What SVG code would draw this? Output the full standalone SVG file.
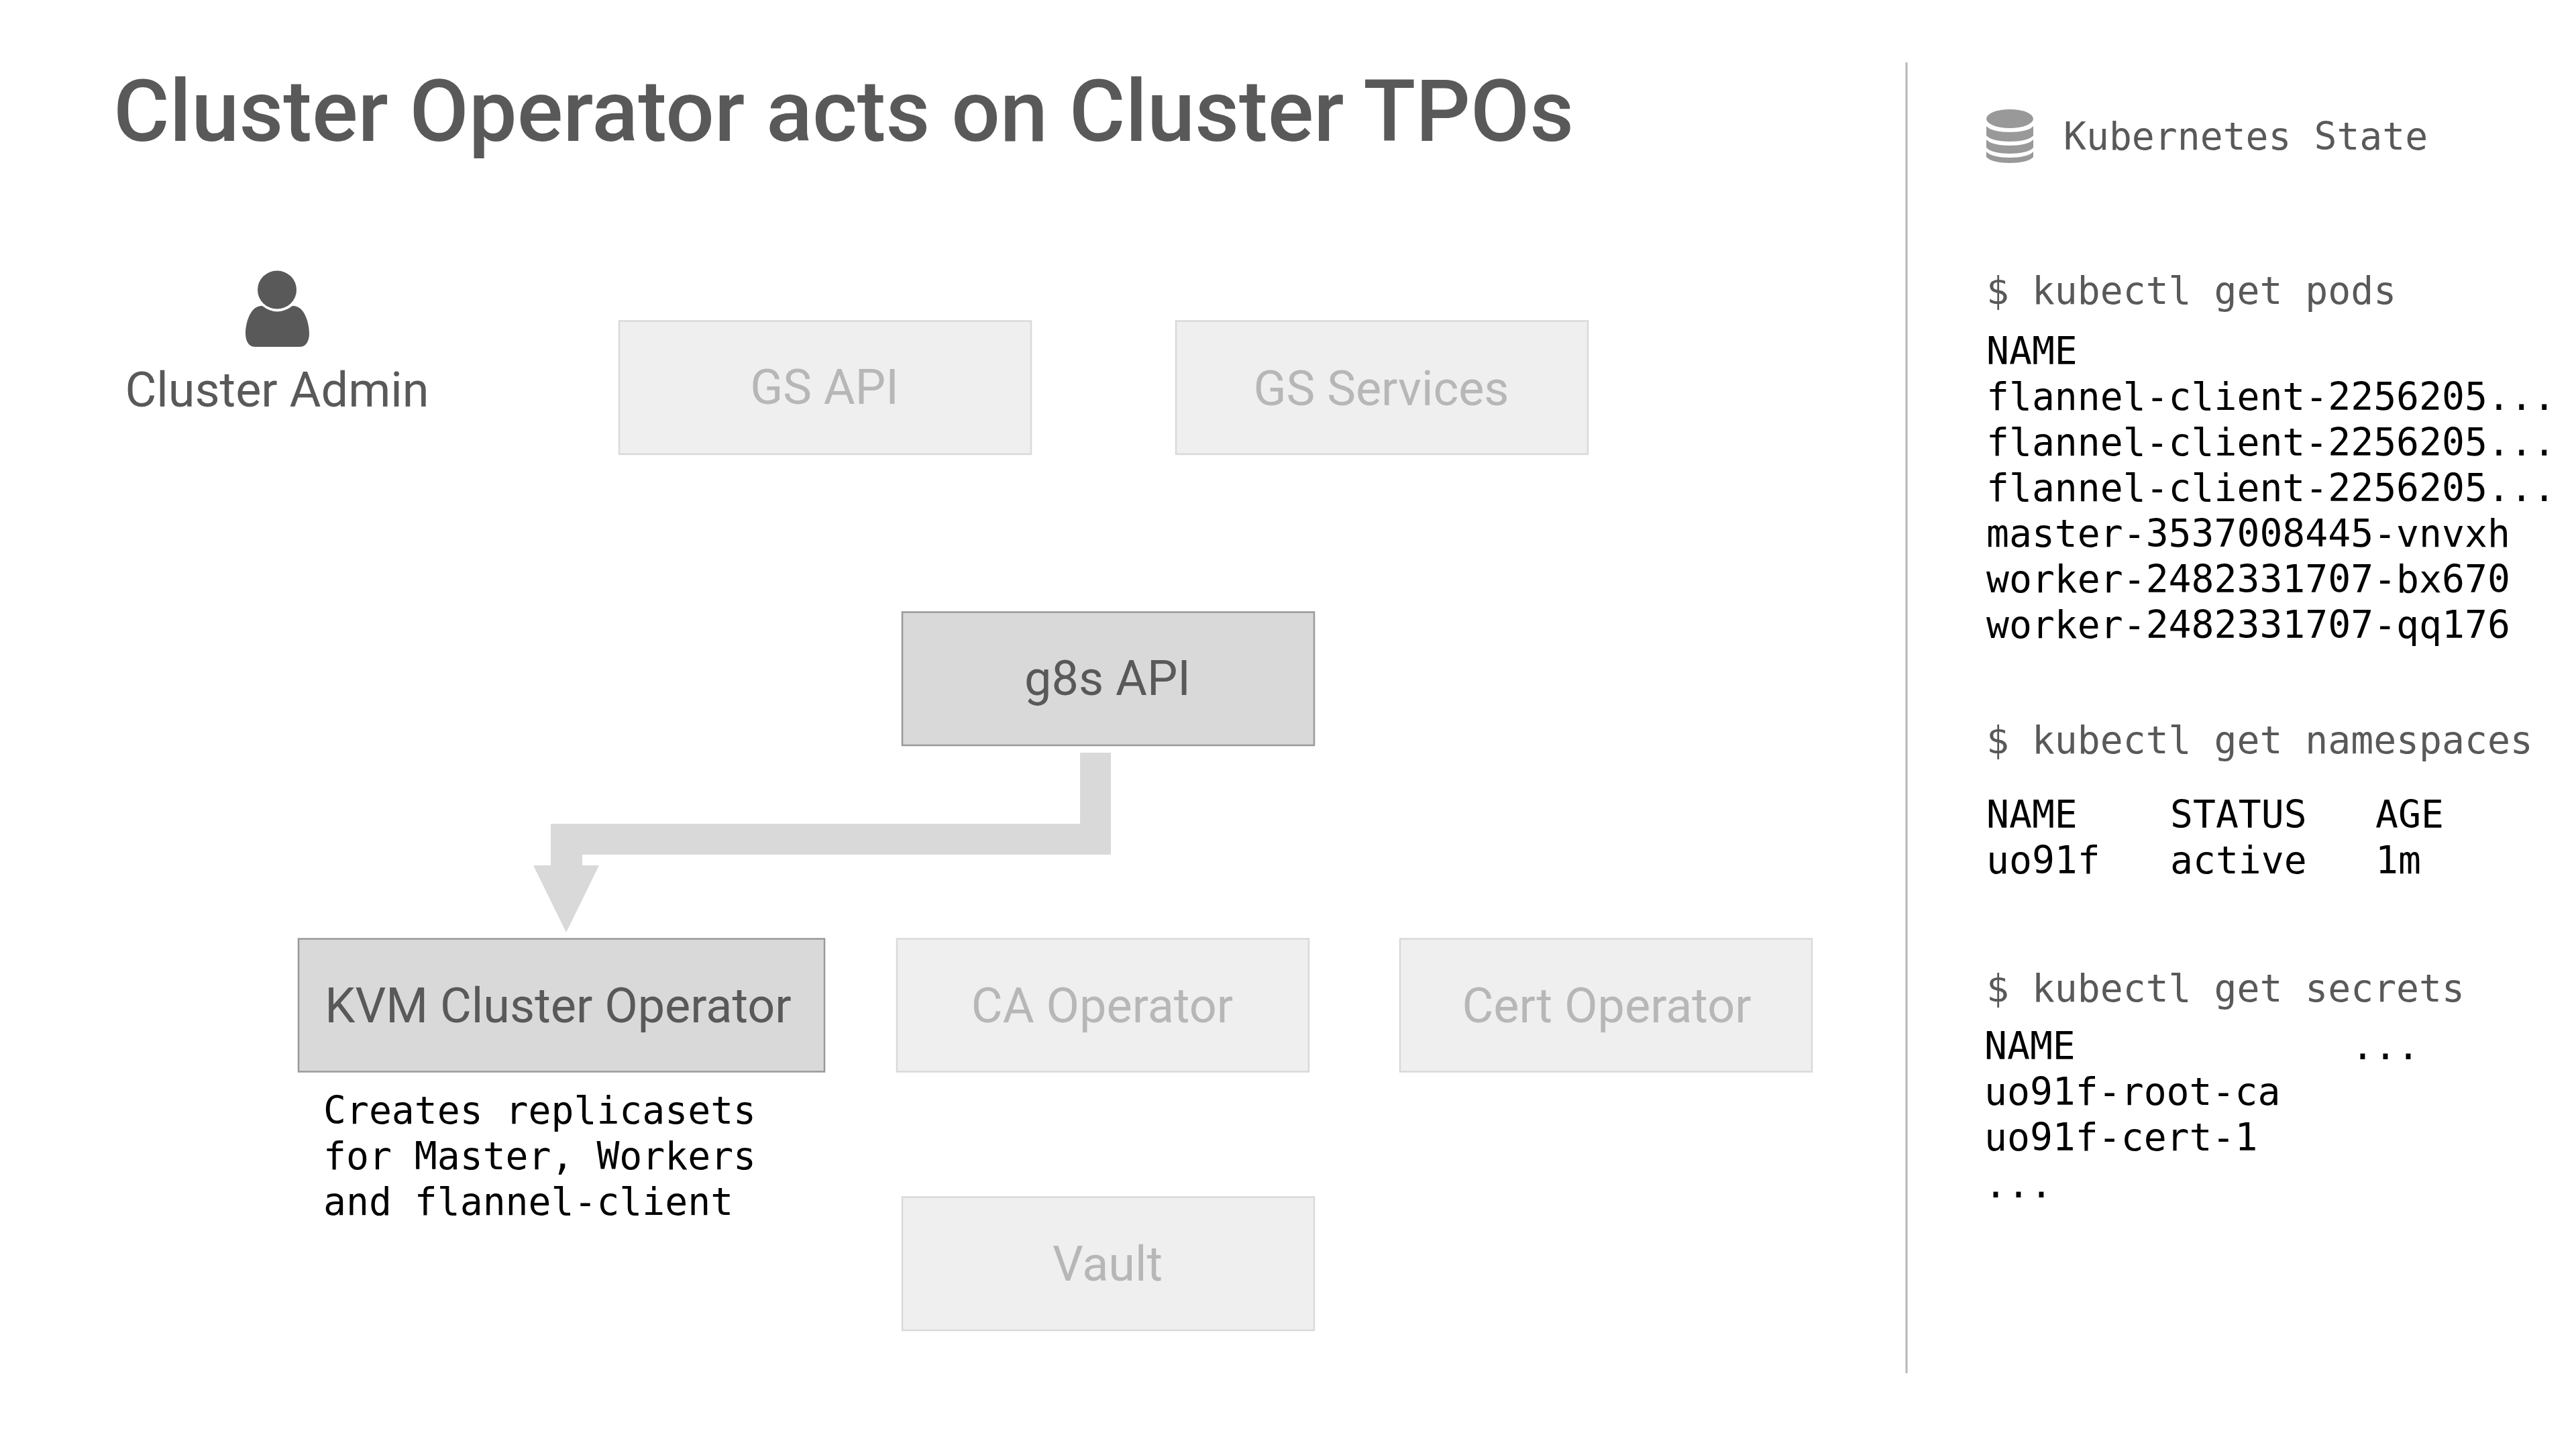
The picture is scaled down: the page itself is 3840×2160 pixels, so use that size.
<svg xmlns="http://www.w3.org/2000/svg" width="3840" height="2160" viewBox="0 0 3840 2160">
<style>
.title{font:500 128px Roboto,sans-serif;fill:#595959}
.lbl{font:400 72px Roboto,sans-serif;text-anchor:middle}
.on rect{fill:#d9d9d9;stroke:#999;stroke-width:2.500}
.on text{fill:#595959}
.off rect{fill:#efefef;stroke:#d9d9d9;stroke-width:2.500}
.off text{fill:#b7b7b7}
.m{font:56.400px "DejaVu Sans Mono",monospace;fill:#000}
.g{fill:#595959}
</style>
<rect width="3840" height="2160" fill="#fff"/>
<text class="title" x="169" y="210">Cluster Operator acts on Cluster TPOs</text>
<rect x="2840.500" y="93" width="3" height="1954" fill="#b7b7b7"/>
<g id="admin">
<ellipse cx="413" cy="432" rx="29" ry="28.500" fill="#595959"/>
<path d="M391 456Q413 473 436 456C454 455 461 482 461 497C461 510 455 517 447 517H380C372 517 366 510 366 497C366 482 373 455 391 456Z" fill="#595959"/>
<text class="lbl" x="413" y="606" fill="#595959">Cluster Admin</text>
</g>
<g id="gs-api" class="off"><rect x="923" y="478.500" width="614" height="198.500"/><text class="lbl" x="1229" y="602">GS API</text></g>
<g id="gs-services" class="off"><rect x="1753" y="478.500" width="614" height="198.500"/><text class="lbl" x="2059" y="604">GS Services</text></g>
<g id="g8s-api" class="on"><rect x="1345" y="912.500" width="614" height="198.500"/><text class="lbl" x="1651" y="1036">g8s API</text></g>
<g id="kvm-operator" class="on"><rect x="445" y="1399.500" width="784" height="198"/><text class="lbl" x="832" y="1524">KVM Cluster Operator</text></g>
<g id="ca-operator" class="off"><rect x="1337" y="1399.500" width="614" height="198"/><text class="lbl" x="1643" y="1524">CA Operator</text></g>
<g id="cert-operator" class="off"><rect x="2087" y="1399.500" width="614" height="198"/><text class="lbl" x="2395" y="1524">Cert Operator</text></g>
<g id="vault" class="off"><rect x="1345" y="1784.500" width="614" height="198.500"/><text class="lbl" x="1651" y="1909">Vault</text></g>
<g id="connectors">
<path d="M1610 1122H1656V1274H868V1290H893L844 1390L795 1290H821V1228H1610Z" fill="#d9d9d9"/>
</g>
<g id="kvm-note" class="m">
<text x="482" y="1675">Creates replicasets</text>
<text x="482" y="1743">for Master, Workers</text>
<text x="482" y="1811">and flannel-client</text>
</g>
<g id="k8s-state">
<g fill="#999">
<ellipse cx="2996" cy="177" rx="35" ry="14"/>
<path d="M2961 188C2970 200 3022 200 3031 188V202C3022 214 2970 214 2961 202Z"/>
<path d="M2961 208C2970 220 3022 220 3031 208V220C3022 232 2970 232 2961 220Z"/>
<path d="M2961 226C2970 238 3022 238 3031 226V234C3022 246 2970 246 2961 234Z"/>
</g>
<text class="m g" x="3076" y="223">Kubernetes State</text>
<text class="m g" x="2961" y="453">$ kubectl get pods</text>
<g class="m">
<text x="2961" y="543">NAME</text>
<text x="2961" y="611">flannel-client-2256205...</text>
<text x="2961" y="679">flannel-client-2256205...</text>
<text x="2961" y="747">flannel-client-2256205...</text>
<text x="2961" y="815">master-3537008445-vnvxh</text>
<text x="2961" y="883">worker-2482331707-bx670</text>
<text x="2961" y="951">worker-2482331707-qq176</text>
</g>
<text class="m g" x="2961" y="1123">$ kubectl get namespaces</text>
<g class="m">
<text x="2961" y="1234">NAME</text><text x="3235" y="1234">STATUS</text><text x="3541" y="1234">AGE</text>
<text x="2961" y="1302">uo91f</text><text x="3235" y="1302">active</text><text x="3541" y="1302">1m</text>
</g>
<text class="m g" x="2961" y="1493">$ kubectl get secrets</text>
<g class="m">
<text x="2958" y="1579">NAME</text><text x="3505" y="1579">...</text>
<text x="2958" y="1647">uo91f-root-ca</text>
<text x="2958" y="1715">uo91f-cert-1</text>
<text x="2958" y="1785">...</text>
</g>
</g>
</svg>
